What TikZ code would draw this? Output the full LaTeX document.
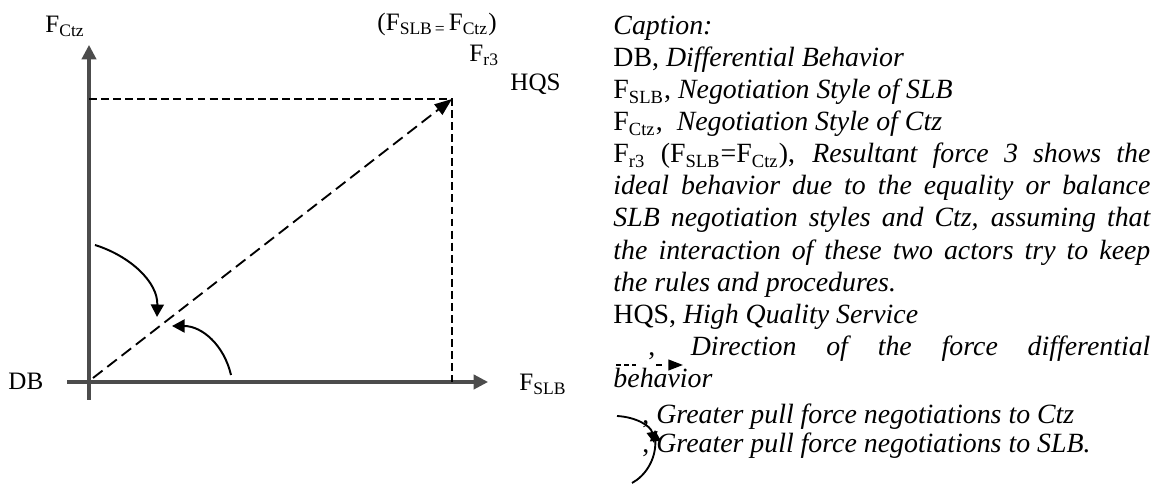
\documentclass[tikz,border=0pt]{standalone}
\usepackage{fontspec}
\setmainfont{Liberation Serif}
\usetikzlibrary{arrows.meta}
\begin{document}
\begin{tikzpicture}[x=0.431pt,y=-0.431pt,
  axisline/.style={line width=1.3pt,draw=black!70},
  guide/.style={line width=0.8pt,dash pattern=on 3.4pt off 1.8pt},
  diag/.style={line width=0.8pt,dash pattern=on 5.2pt off 2.6pt},
  bigtip/.style={-{Triangle[length=6.2pt,width=6.2pt]}},
  curvearrow/.style={line width=0.85pt,-{Triangle[length=5.4pt,width=5.6pt]}},
  smallcurve/.style={line width=0.8pt,-{Triangle[length=4.8pt,width=4.6pt]}},
  lbl/.style={inner sep=0pt,font=\fontsize{10.8}{13}\selectfont},
  captext/.style={inner sep=0pt,text width=231.4pt,align=justify,font=\fontsize{12}{13.8}\selectfont}
]
\useasboundingbox (0,0) rectangle (1160,484);
% axes
\coordinate (xstart) at (67,382);
\coordinate (xend) at (488,382);
\coordinate (ybot) at (89,400);
\coordinate (ytop) at (89,45);
\coordinate (O) at (93,378);
\coordinate (P) at (452,99);
\coordinate (Py) at (89,99);
\coordinate (Px) at (452,382);
\draw[axisline,bigtip] (xstart) -- (xend);
\draw[axisline,bigtip] (ybot) -- (ytop);
\draw[guide] (Py) -- (P) -- (Px);
\draw[diag,-{Triangle[length=7.5pt,width=5.6pt]}] (O) -- (P);
% curved arrows
\coordinate (c1s) at (95,245);
\coordinate (c1e) at (157,317);
\coordinate (c2s) at (231,375);
\coordinate (c2e) at (172,326);
\draw[curvearrow] (c1s) .. controls (130,256) and (158,282) .. (c1e);
\draw[curvearrow] (c2s) .. controls (224,345) and (202,326) .. (c2e);
% labels
\node[lbl,anchor=base west] (fctz) at (45,33) {F\textsubscript{Ctz}};
\node[lbl,anchor=base west] (feq) at (377,31) {(F\textsubscript{SLB\,=\,}F\textsubscript{Ctz})};
\node[lbl,anchor=base west] (fr3) at (469,62) {F\textsubscript{r3}};
\node[lbl,anchor=base west] (hqs) at (510,91) {HQS};
\node[lbl,anchor=base west] (db) at (8,390) {DB};
\node[lbl,anchor=base west] (fslb) at (519,391) {F\textsubscript{SLB}};
% caption
\node[captext,anchor=north west] (caption) at (613,16) {%
\textit{Caption:}\\
DB, \textit{Differential Behavior}\\
F\textsubscript{SLB}, \textit{Negotiation Style of SLB}\\
F\textsubscript{Ctz}, \ \textit{Negotiation Style of Ctz}\\
F\textsubscript{r3} (F\textsubscript{SLB}=F\textsubscript{Ctz}), \textit{Resultant force 3 shows the\linebreak ideal behavior due to the equality or balance\linebreak SLB negotiation styles and Ctz, assuming that\linebreak the interaction of these two actors try to keep\linebreak the rules and procedures.}\\
HQS, \textit{High Quality Service}\\
\hspace*{15pt}, \textit{Direction of the force differential\linebreak behavior}\\[2pt]
\hspace*{12.5pt}, \textit{Greater pull force negotiations to Ctz}\\[-1.5pt]
\hspace*{12.5pt}, \textit{Greater pull force negotiations to SLB.}};
% caption icons
\coordinate (k1s) at (616,365);
\coordinate (k1e) at (683,365);
\draw[line width=0.8pt,dash pattern=on 2.2pt off 1.4pt on 1.8pt off 1.6pt on 1.8pt off 8.6pt on 2.6pt off 6pt,-{Triangle[length=6.3pt,width=4.6pt]}] (k1s) -- (k1e);
\coordinate (k2s) at (617,416);
\coordinate (k2e) at (654,443);
\coordinate (k3s) at (632,483);
\coordinate (k3e) at (655,430);
\draw[smallcurve] (k2s) .. controls (636,417) and (651,426) .. (k2e);
\draw[smallcurve] (k3s) .. controls (645,476) and (656,460) .. (k3e);
\end{tikzpicture}
\end{document}
